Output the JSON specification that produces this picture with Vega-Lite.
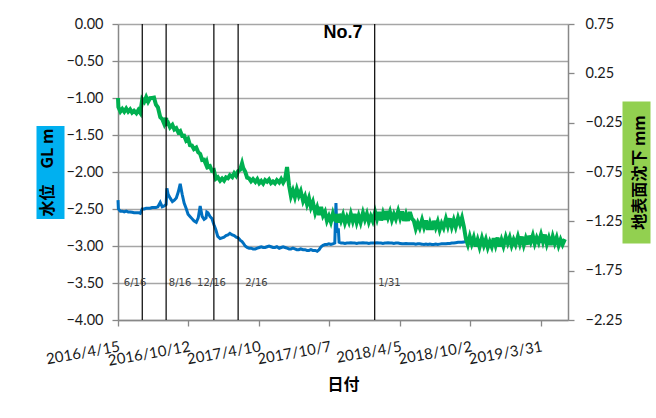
{
"$schema": "https://vega.github.io/schema/vega-lite/v6.json",
"width": 450, "height": 296,
"autosize": {"type": "none"},
"padding": {"left": 118, "top": 24, "right": 88, "bottom": 98},
"background": "white",
"config": {"view": {"stroke": null}, "font": "Lato"},
"title": {"text": "No.7", "font": "Liberation Sans", "fontSize": 18, "fontWeight": "bold", "color": "black", "anchor": "middle", "frame": "group", "baseline": "alphabetic", "offset": -40},
"datasets": {
"events": [{"date": "2016/06/16"}, {"date": "2016/08/16"}, {"date": "2016/12/16"}, {"date": "2017/02/16"}, {"date": "2018/01/31"}],
"labels": [{"date": "2016/04/30", "label": "6/16"}, {"date": "2016/08/23", "label": "8/16"}, {"date": "2016/11/03", "label": "12/16"}, {"date": "2017/03/06", "label": "2/16"}, {"date": "2018/02/09", "label": "1/31"}],
"series": [
{"date":"2016/04/15","water":-2.38,"subsidence":0.0},
{"date":"2016/04/16","water":-2.50,"subsidence":-0.092},
{"date":"2016/04/21","water":-2.53,"subsidence":-0.138},
{"date":"2016/04/26","water":-2.53,"subsidence":-0.111},
{"date":"2016/05/01","water":-2.54,"subsidence":-0.138},
{"date":"2016/05/06","water":-2.53,"subsidence":-0.107},
{"date":"2016/05/11","water":-2.54,"subsidence":-0.139},
{"date":"2016/05/16","water":-2.54,"subsidence":-0.116},
{"date":"2016/05/21","water":-2.545,"subsidence":-0.148},
{"date":"2016/05/26","water":-2.55,"subsidence":-0.130},
{"date":"2016/06/01","water":-2.55,"subsidence":-0.154},
{"date":"2016/06/06","water":-2.55,"subsidence":-0.122},
{"date":"2016/06/11","water":-2.56,"subsidence":-0.151},
{"date":"2016/06/16","water":-2.50,"subsidence":-0.012},
{"date":"2016/06/21","water":-2.50,"subsidence":-0.038},
{"date":"2016/06/26","water":-2.49,"subsidence":0.009},
{"date":"2016/07/01","water":-2.49,"subsidence":-0.038},
{"date":"2016/07/06","water":-2.49,"subsidence":-0.002},
{"date":"2016/07/11","water":-2.48,"subsidence":0.001},
{"date":"2016/07/16","water":-2.48,"subsidence":0.004},
{"date":"2016/07/21","water":-2.48,"subsidence":-0.068},
{"date":"2016/07/26","water":-2.47,"subsidence":-0.095},
{"date":"2016/08/01","water":-2.41,"subsidence":-0.194},
{"date":"2016/08/06","water":-2.47,"subsidence":-0.212},
{"date":"2016/08/11","water":-2.46,"subsidence":-0.261},
{"date":"2016/08/16","water":-2.44,"subsidence":-0.202},
{"date":"2016/08/18","water":-2.22,"subsidence":-0.258},
{"date":"2016/08/21","water":-2.30,"subsidence":-0.251},
{"date":"2016/08/26","water":-2.35,"subsidence":-0.298},
{"date":"2016/09/01","water":-2.40,"subsidence":-0.272},
{"date":"2016/09/06","water":-2.38,"subsidence":-0.319},
{"date":"2016/09/11","water":-2.35,"subsidence":-0.306},
{"date":"2016/09/16","water":-2.27,"subsidence":-0.348},
{"date":"2016/09/21","water":-2.16,"subsidence":-0.335},
{"date":"2016/09/26","water":-2.30,"subsidence":-0.384},
{"date":"2016/10/01","water":-2.42,"subsidence":-0.382},
{"date":"2016/10/06","water":-2.49,"subsidence":-0.431},
{"date":"2016/10/11","water":-2.57,"subsidence":-0.412},
{"date":"2016/10/16","water":-2.60,"subsidence":-0.478},
{"date":"2016/10/21","water":-2.63,"subsidence":-0.481},
{"date":"2016/10/26","water":-2.66,"subsidence":-0.518},
{"date":"2016/11/01","water":-2.68,"subsidence":-0.502},
{"date":"2016/11/06","water":-2.62,"subsidence":-0.549},
{"date":"2016/11/11","water":-2.46,"subsidence":-0.566},
{"date":"2016/11/16","water":-2.60,"subsidence":-0.628},
{"date":"2016/11/21","water":-2.64,"subsidence":-0.625},
{"date":"2016/11/26","water":-2.62,"subsidence":-0.674},
{"date":"2016/11/28","water":-2.54,"subsidence":-0.652},
{"date":"2016/12/01","water":-2.55,"subsidence":-0.701},
{"date":"2016/12/06","water":-2.60,"subsidence":-0.692},
{"date":"2016/12/11","water":-2.63,"subsidence":-0.738},
{"date":"2016/12/16","water":-2.71,"subsidence":-0.731},
{"date":"2016/12/21","water":-2.78,"subsidence":-0.818},
{"date":"2016/12/26","water":-2.87,"subsidence":-0.802},
{"date":"2017/01/01","water":-2.90,"subsidence":-0.839},
{"date":"2017/01/06","water":-2.89,"subsidence":-0.816},
{"date":"2017/01/11","water":-2.88,"subsidence":-0.838},
{"date":"2017/01/16","water":-2.86,"subsidence":-0.805},
{"date":"2017/01/21","water":-2.85,"subsidence":-0.814},
{"date":"2017/01/26","water":-2.83,"subsidence":-0.782},
{"date":"2017/02/01","water":-2.85,"subsidence":-0.801},
{"date":"2017/02/06","water":-2.86,"subsidence":-0.762},
{"date":"2017/02/11","water":-2.88,"subsidence":-0.788},
{"date":"2017/02/16","water":-2.89,"subsidence":-0.741},
{"date":"2017/02/21","water":-2.92,"subsidence":-0.728},
{"date":"2017/02/26","water":-2.94,"subsidence":-0.662},
{"date":"2017/03/01","water":-2.96,"subsidence":-0.709},
{"date":"2017/03/06","water":-3.00,"subsidence":-0.746},
{"date":"2017/03/11","water":-3.02,"subsidence":-0.808},
{"date":"2017/03/16","water":-3.03,"subsidence":-0.815},
{"date":"2017/03/21","water":-3.03,"subsidence":-0.844},
{"date":"2017/03/26","water":-3.04,"subsidence":-0.822},
{"date":"2017/04/01","water":-3.04,"subsidence":-0.851},
{"date":"2017/04/06","water":-3.03,"subsidence":-0.822},
{"date":"2017/04/11","water":-3.02,"subsidence":-0.863},
{"date":"2017/04/16","water":-3.01,"subsidence":-0.841},
{"date":"2017/04/21","water":-3.02,"subsidence":-0.868},
{"date":"2017/04/26","water":-3.02,"subsidence":-0.832},
{"date":"2017/05/01","water":-3.01,"subsidence":-0.849},
{"date":"2017/05/06","water":-3.00,"subsidence":-0.826},
{"date":"2017/05/11","water":-3.01,"subsidence":-0.863},
{"date":"2017/05/16","water":-3.02,"subsidence":-0.845},
{"date":"2017/05/21","water":-3.02,"subsidence":-0.864},
{"date":"2017/05/26","water":-3.01,"subsidence":-0.832},
{"date":"2017/06/01","water":-3.03,"subsidence":-0.856},
{"date":"2017/06/06","water":-3.02,"subsidence":-0.822},
{"date":"2017/06/11","water":-3.01,"subsidence":-0.858},
{"date":"2017/06/16","water":-3.02,"subsidence":-0.821},
{"date":"2017/06/21","water":-3.03,"subsidence":-0.70},
{"date":"2017/06/26","water":-3.04,"subsidence":-0.885},
{"date":"2017/07/01","water":-3.04,"subsidence":-0.995},
{"date":"2017/07/06","water":-3.03,"subsidence":-0.938},
{"date":"2017/07/11","water":-3.04,"subsidence":-1.005},
{"date":"2017/07/16","water":-3.05,"subsidence":-0.925},
{"date":"2017/07/21","water":-3.05,"subsidence":-0.992},
{"date":"2017/07/26","water":-3.04,"subsidence":-0.944},
{"date":"2017/08/01","water":-3.05,"subsidence":-1.045},
{"date":"2017/08/06","water":-3.05,"subsidence":-0.997},
{"date":"2017/08/11","water":-3.06,"subsidence":-1.076},
{"date":"2017/08/16","water":-3.06,"subsidence":-1.015},
{"date":"2017/08/21","water":-3.05,"subsidence":-1.107},
{"date":"2017/08/26","water":-3.06,"subsidence":-1.055},
{"date":"2017/09/01","water":-3.06,"subsidence":-1.165},
{"date":"2017/09/06","water":-3.07,"subsidence":-1.108},
{"date":"2017/09/11","water":-3.05,"subsidence":-1.185},
{"date":"2017/09/16","water":-3.01,"subsidence":-1.105},
{"date":"2017/09/21","water":-2.99,"subsidence":-1.192},
{"date":"2017/09/26","water":-2.98,"subsidence":-1.154},
{"date":"2017/10/01","water":-2.98,"subsidence":-1.245},
{"date":"2017/10/06","water":-2.97,"subsidence":-1.197},
{"date":"2017/10/11","water":-2.98,"subsidence":-1.256},
{"date":"2017/10/16","water":-2.97,"subsidence":-1.175},
{"date":"2017/10/21","water":-2.96,"subsidence":-1.247},
{"date":"2017/10/24","water":-2.42,"subsidence":-1.175},
{"date":"2017/10/26","water":-2.74,"subsidence":-1.265},
{"date":"2017/10/28","water":-2.82,"subsidence":-1.198},
{"date":"2017/10/30","water":-2.76,"subsidence":-1.265},
{"date":"2017/11/01","water":-2.95,"subsidence":-1.175},
{"date":"2017/11/06","water":-2.96,"subsidence":-1.242},
{"date":"2017/11/11","water":-2.96,"subsidence":-1.184},
{"date":"2017/11/16","water":-2.965,"subsidence":-1.265},
{"date":"2017/11/21","water":-2.96,"subsidence":-1.207},
{"date":"2017/11/26","water":-2.96,"subsidence":-1.256},
{"date":"2017/12/01","water":-2.955,"subsidence":-1.175},
{"date":"2017/12/06","water":-2.96,"subsidence":-1.247},
{"date":"2017/12/11","water":-2.96,"subsidence":-1.175},
{"date":"2017/12/16","water":-2.965,"subsidence":-1.26},
{"date":"2017/12/21","water":-2.96,"subsidence":-1.193},
{"date":"2017/12/26","water":-2.96,"subsidence":-1.26},
{"date":"2018/01/01","water":-2.955,"subsidence":-1.165},
{"date":"2018/01/06","water":-2.96,"subsidence":-1.232},
{"date":"2018/01/11","water":-2.96,"subsidence":-1.174},
{"date":"2018/01/16","water":-2.965,"subsidence":-1.255},
{"date":"2018/01/21","water":-2.96,"subsidence":-1.197},
{"date":"2018/01/26","water":-2.96,"subsidence":-1.246},
{"date":"2018/02/01","water":-2.96,"subsidence":-1.155},
{"date":"2018/02/06","water":-2.955,"subsidence":-1.227},
{"date":"2018/02/11","water":-2.96,"subsidence":-1.155},
{"date":"2018/02/16","water":-2.96,"subsidence":-1.24},
{"date":"2018/02/21","water":-2.965,"subsidence":-1.168},
{"date":"2018/02/26","water":-2.96,"subsidence":-1.235},
{"date":"2018/03/01","water":-2.96,"subsidence":-1.145},
{"date":"2018/03/06","water":-2.955,"subsidence":-1.212},
{"date":"2018/03/11","water":-2.96,"subsidence":-1.154},
{"date":"2018/03/16","water":-2.96,"subsidence":-1.235},
{"date":"2018/03/21","water":-2.965,"subsidence":-1.177},
{"date":"2018/03/26","water":-2.96,"subsidence":-1.226},
{"date":"2018/04/01","water":-2.96,"subsidence":-1.145},
{"date":"2018/04/06","water":-2.965,"subsidence":-1.217},
{"date":"2018/04/11","water":-2.97,"subsidence":-1.15},
{"date":"2018/04/16","water":-2.97,"subsidence":-1.245},
{"date":"2018/04/21","water":-2.965,"subsidence":-1.178},
{"date":"2018/04/26","water":-2.97,"subsidence":-1.245},
{"date":"2018/05/01","water":-2.97,"subsidence":-1.155},
{"date":"2018/05/06","water":-2.97,"subsidence":-1.222},
{"date":"2018/05/11","water":-2.97,"subsidence":-1.244},
{"date":"2018/05/16","water":-2.975,"subsidence":-1.325},
{"date":"2018/05/21","water":-2.97,"subsidence":-1.267},
{"date":"2018/05/26","water":-2.97,"subsidence":-1.316},
{"date":"2018/06/01","water":-2.975,"subsidence":-1.235},
{"date":"2018/06/06","water":-2.98,"subsidence":-1.307},
{"date":"2018/06/11","water":-2.975,"subsidence":-1.24},
{"date":"2018/06/16","water":-2.98,"subsidence":-1.335},
{"date":"2018/06/21","water":-2.975,"subsidence":-1.268},
{"date":"2018/06/26","water":-2.98,"subsidence":-1.335},
{"date":"2018/07/01","water":-2.98,"subsidence":-1.245},
{"date":"2018/07/06","water":-2.975,"subsidence":-1.312},
{"date":"2018/07/11","water":-2.98,"subsidence":-1.254},
{"date":"2018/07/16","water":-2.975,"subsidence":-1.335},
{"date":"2018/07/21","water":-2.97,"subsidence":-1.272},
{"date":"2018/07/26","water":-2.97,"subsidence":-1.316},
{"date":"2018/08/01","water":-2.97,"subsidence":-1.225},
{"date":"2018/08/06","water":-2.965,"subsidence":-1.297},
{"date":"2018/08/11","water":-2.965,"subsidence":-1.22},
{"date":"2018/08/16","water":-2.96,"subsidence":-1.305},
{"date":"2018/08/21","water":-2.96,"subsidence":-1.238},
{"date":"2018/08/26","water":-2.955,"subsidence":-1.305},
{"date":"2018/09/01","water":-2.95,"subsidence":-1.215},
{"date":"2018/09/06","water":-2.95,"subsidence":-1.277},
{"date":"2018/09/11","water":-2.95,"subsidence":-1.214},
{"date":"2018/09/16","water":-2.945,"subsidence":-1.305},
{"date":"2018/09/21","water":-2.94,"subsidence":-1.427},
{"date":"2018/09/26","water":-2.94,"subsidence":-1.486},
{"date":"2018/10/01","water":-2.94,"subsidence":-1.405},
{"date":"2018/10/06","water":-2.945,"subsidence":-1.477},
{"date":"2018/10/11","water":-2.94,"subsidence":-1.415},
{"date":"2018/10/16","water":-2.94,"subsidence":-1.505},
{"date":"2018/10/21","water":-2.945,"subsidence":-1.438},
{"date":"2018/10/26","water":-2.94,"subsidence":-1.51},
{"date":"2018/11/01","water":-2.94,"subsidence":-1.42},
{"date":"2018/11/06","water":-2.945,"subsidence":-1.492},
{"date":"2018/11/11","water":-2.94,"subsidence":-1.434},
{"date":"2018/11/16","water":-2.94,"subsidence":-1.515},
{"date":"2018/11/21","water":-2.945,"subsidence":-1.457},
{"date":"2018/11/26","water":-2.94,"subsidence":-1.506},
{"date":"2018/12/01","water":-2.94,"subsidence":-1.42},
{"date":"2018/12/06","water":-2.94,"subsidence":-1.492},
{"date":"2018/12/11","water":-2.945,"subsidence":-1.415},
{"date":"2018/12/16","water":-2.94,"subsidence":-1.505},
{"date":"2018/12/21","water":-2.94,"subsidence":-1.438},
{"date":"2018/12/26","water":-2.945,"subsidence":-1.50},
{"date":"2019/01/01","water":-2.94,"subsidence":-1.41},
{"date":"2019/01/06","water":-2.94,"subsidence":-1.472},
{"date":"2019/01/11","water":-2.945,"subsidence":-1.414},
{"date":"2019/01/16","water":-2.94,"subsidence":-1.495},
{"date":"2019/01/21","water":-2.94,"subsidence":-1.437},
{"date":"2019/01/26","water":-2.94,"subsidence":-1.486},
{"date":"2019/02/01","water":-2.945,"subsidence":-1.405},
{"date":"2019/02/06","water":-2.94,"subsidence":-1.477},
{"date":"2019/02/11","water":-2.94,"subsidence":-1.405},
{"date":"2019/02/16","water":-2.94,"subsidence":-1.49},
{"date":"2019/02/21","water":-2.945,"subsidence":-1.423},
{"date":"2019/02/26","water":-2.94,"subsidence":-1.485},
{"date":"2019/03/01","water":-2.94,"subsidence":-1.395},
{"date":"2019/03/06","water":-2.935,"subsidence":-1.457},
{"date":"2019/03/11","water":-2.94,"subsidence":-1.394},
{"date":"2019/03/16","water":-2.94,"subsidence":-1.475},
{"date":"2019/03/21","water":-2.935,"subsidence":-1.417},
{"date":"2019/03/26","water":-2.94,"subsidence":-1.466},
{"date":"2019/04/01","water":-2.94,"subsidence":-1.385},
{"date":"2019/04/06","water":-2.935,"subsidence":-1.457},
{"date":"2019/04/11","water":-2.94,"subsidence":-1.385},
{"date":"2019/04/16","water":-2.94,"subsidence":-1.48},
{"date":"2019/04/21","water":-2.945,"subsidence":-1.418},
{"date":"2019/04/26","water":-2.94,"subsidence":-1.49},
{"date":"2019/05/01","water":-2.94,"subsidence":-1.405},
{"date":"2019/05/06","water":-2.945,"subsidence":-1.472},
{"date":"2019/05/11","water":-2.94,"subsidence":-1.414},
{"date":"2019/05/16","water":-2.94,"subsidence":-1.495},
{"date":"2019/05/21","water":-2.945,"subsidence":-1.437},
{"date":"2019/05/26","water":-2.94,"subsidence":-1.486},
{"date":"2019/06/01","water":-2.94,"subsidence":-1.43}
]
},
"encoding": {
"x": {"field": "date", "type": "temporal",
 "scale": {"domain": [{"year": 2016, "month": 4, "date": 15}, {"year": 2019, "month": 6, "date": 9}]},
 "axis": {"title": "日付", "values": [{"year": 2016, "month": 4, "date": 15}, {"year": 2016, "month": 10, "date": 12}, {"year": 2017, "month": 4, "date": 10}, {"year": 2017, "month": 10, "date": 7}, {"year": 2018, "month": 4, "date": 5}, {"year": 2018, "month": 10, "date": 2}, {"year": 2019, "month": 3, "date": 31}],
  "format": "%Y/%-m/%-d", "labelAngle": -10, "labelAlign": "right", "labelBaseline": "top", "labelFont": "Lato", "labelFontSize": 15, "labelColor": "#1a1a1a", "labelPadding": 13, "labelOverlap": false, "labelFlush": false, "labelBound": false,
  "tickSize": 6, "tickColor": "#888888", "tickWidth": 1.3, "domainColor": "#888888", "domainWidth": 1.5, "grid": false,
  "titleFont": "Noto Sans CJK JP", "titleFontSize": 16, "titleFontWeight": "bold", "titleColor": "black", "titlePadding": 8}}
},
"layer": [
{"data": {"name": "series"}, "mark": {"type": "line", "strokeOpacity": 0},
 "encoding": {"y": {"field": "water", "type": "quantitative", "scale": {"domain": [-4, 0]},
  "axis": {"orient": "left", "offset": 54, "values": [-2], "tickSize": 28, "tickWidth": 93, "tickColor": "#00B0F0", "labels": false, "domain": false, "grid": false, "title": null}}}},
{"data": {"name": "series"}, "mark": {"type": "line", "strokeOpacity": 0},
 "encoding": {"y": {"field": "subsidence", "type": "quantitative", "scale": {"domain": [-2.25, 0.75]},
  "axis": {"orient": "right", "offset": 54, "values": [-0.75], "tickSize": 28, "tickWidth": 142, "tickColor": "#92D050", "labels": false, "domain": false, "grid": false, "title": null}}}},
{"data": {"name": "series"}, "mark": {"type": "line", "color": "#0070C0", "strokeWidth": 3},
 "encoding": {"y": {"field": "water", "type": "quantitative", "scale": {"domain": [-4, 0]},
  "axis": {"orient": "left", "title": "水位\u3000GL m", "values": [0, -0.5, -1, -1.5, -2, -2.5, -3, -3.5, -4], "format": ".2f",
   "grid": true, "gridColor": "#a6a6a6", "gridWidth": 1.3, "domainColor": "#888888", "domainWidth": 1.5, "tickColor": "#888888", "tickSize": 6, "tickWidth": 1.3,
   "labelFont": "Lato", "labelFontSize": 14.5, "labelPadding": 9, "labelColor": "#1a1a1a", "labelFlush": false,
   "titleFont": "Noto Sans CJK JP", "titleFontSize": 16, "titleFontWeight": "bold", "titleColor": "black", "titlePadding": 10}}}},
{"data": {"name": "series"}, "mark": {"type": "line", "color": "#00B050", "strokeWidth": 4},
 "encoding": {"y": {"field": "subsidence", "type": "quantitative", "scale": {"domain": [-2.25, 0.75]},
  "axis": {"orient": "right", "title": "地表面沈下 mm", "values": [0.75, 0.25, -0.25, -0.75, -1.25, -1.75, -2.25], "format": ".2f",
   "grid": false, "domainColor": "#888888", "domainWidth": 1.5, "tickColor": "#888888", "tickSize": 6, "tickWidth": 1.3,
   "labelFont": "Lato", "labelFontSize": 14.5, "labelPadding": 11, "labelColor": "#1a1a1a", "labelFlush": false,
   "titleFont": "Noto Sans CJK JP", "titleFontSize": 16, "titleFontWeight": "bold", "titleColor": "black", "titleAngle": -90, "titleBaseline": "top", "titlePadding": 9}}}},
{"data": {"name": "events"}, "mark": {"type": "rule", "color": "black", "strokeWidth": 1.2}, "encoding": {}},
{"data": {"name": "labels"}, "mark": {"type": "text", "align": "left", "baseline": "middle", "font": "DejaVu Sans", "fontSize": 10, "color": "#404040"},
 "encoding": {"text": {"field": "label"}, "y": {"datum": -3.5, "scale": {"domain": [-4, 0]}, "axis": null}}}
],
"resolve": {"scale": {"y": "independent"}}
}
